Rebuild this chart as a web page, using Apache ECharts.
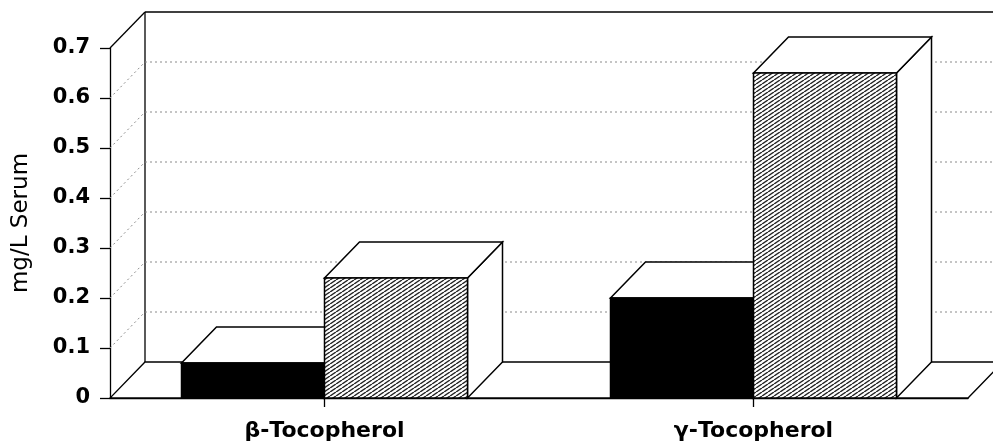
<!DOCTYPE html>
<html>
<head>
<meta charset="utf-8">
<script src="https://cdn.jsdelivr.net/npm/echarts@6/dist/echarts.min.js"></script>
<style>
html,body{margin:0;padding:0;background:#fff;}
#chart{width:993px;height:445px;}
</style>
</head>
<body>
<div id="chart"></div>
<script>
// ---- data ----
const categories = ['β-Tocopherol', 'γ-Tocopherol'];
const seriesNames = ['Series 1', 'Series 2'];
const solidValues = [0.07, 0.20];
const hatchedValues = [0.24, 0.65];
const yMin = 0;
const yMax = 0.7;
const yStep = 0.1;
const yTickValues = [0, 0.1, 0.2, 0.3, 0.4, 0.5, 0.6, 0.7];

// ---- style constants ----
const DX = 35, DY = -36;
const FONT = 'DejaVu Sans';

function makeHatch() {
  const c = document.createElement('canvas');
  const w = 6, h = 4;
  c.width = w; c.height = h;
  const g = c.getContext('2d');
  g.fillStyle = '#fff';
  g.fillRect(0, 0, w, h);
  g.strokeStyle = '#222';
  g.lineWidth = 1.4;
  for (let k = -1; k <= 1; k++) {
    g.beginPath();
    g.moveTo(k * w, h);
    g.lineTo(k * w + w, 0);
    g.stroke();
  }
  return c;
}
const hatchFill = { image: makeHatch(), repeat: 'repeat' };

function barRenderer(side, fill) {
  return function (params, api) {
    const cat = api.value(0), val = api.value(1);
    const base = api.coord([cat, 0]);
    const top = api.coord([cat, val]);
    const band = api.size([1, 0])[0];
    const w = band / 3;
    const x0 = side === 0 ? base[0] - w : base[0];
    const x1 = x0 + w;
    const y0 = base[1], y1 = top[1];
    const st = { fill: '#fff', stroke: '#000', lineWidth: 1.5 };
    return {
      type: 'group',
      children: [
        { type: 'polygon', shape: { points: [[x1, y1], [x1 + DX, y1 + DY], [x1 + DX, y0 + DY], [x1, y0]] }, style: st },
        { type: 'polygon', shape: { points: [[x0, y1], [x1, y1], [x1 + DX, y1 + DY], [x0 + DX, y1 + DY]] }, style: st },
        { type: 'rect', shape: { x: x0, y: y1, width: w, height: y0 - y1 }, style: { fill: fill, stroke: '#000', lineWidth: 1.5 } }
      ]
    };
  };
}

function frameRenderer(params, api) {
  const cs = params.coordSys;
  const L = cs.x, R = cs.x + cs.width, B = cs.y + cs.height, T = cs.y;
  const children = [];
  const black = { stroke: '#000', lineWidth: 1.3 };
  const dotted = { stroke: '#8a8a8a', lineWidth: 1, lineDash: [2, 3] };
  // floor
  children.push({ type: 'polygon', shape: { points: [[L, B], [R, B], [R + DX, B + DY], [L + DX, B + DY]] }, style: { fill: '#fff', stroke: '#000', lineWidth: 1.3 } });
  // left wall
  children.push({ type: 'line', shape: { x1: L + DX, y1: T + DY, x2: L + DX, y2: B + DY }, style: black });
  children.push({ type: 'line', shape: { x1: L, y1: T, x2: L + DX, y2: T + DY }, style: black });
  // back wall top
  children.push({ type: 'line', shape: { x1: L + DX, y1: T + DY, x2: R + DX + 20, y2: T + DY }, style: black });
  yTickValues.forEach(function (v) {
    if (v <= yMin || v >= yMax) return;
    const p = api.coord([0, v]);
    const y = p[1];
    children.push({ type: 'line', shape: { x1: L, y1: y, x2: L + DX, y2: y + DY }, style: dotted });
    children.push({ type: 'line', shape: { x1: L + DX, y1: y + DY, x2: R + DX + 20, y2: y + DY }, style: dotted });
  });
  return { type: 'group', silent: true, children: children };
}

const chart = echarts.init(document.getElementById('chart'), null, { renderer: 'canvas' });
chart.setOption({
  backgroundColor: '#fff',
  animation: false,
  grid: { left: 110, right: 25, top: 48, bottom: 47 },
  xAxis: {
    type: 'category',
    data: categories,
    axisLine: { show: true, lineStyle: { color: '#000', width: 1.3 } },
    axisTick: { show: true, alignWithLabel: true, length: 9, lineStyle: { color: '#000', width: 1.3 } },
    axisLabel: { color: '#000', fontFamily: FONT, fontWeight: 'bold', fontSize: 22, margin: 22 },
    splitLine: { show: false }
  },
  yAxis: {
    type: 'value',
    min: yMin, max: yMax, interval: yStep,
    name: 'mg/L Serum',
    nameLocation: 'middle',
    nameGap: 77,
    nameRotate: 90,
    nameTextStyle: { color: '#000', fontFamily: FONT, fontSize: 23 },
    axisLine: { show: true, lineStyle: { color: '#000', width: 1.3 } },
    axisTick: { show: true, length: 10, lineStyle: { color: '#000', width: 1.3 } },
    axisLabel: { color: '#000', fontFamily: FONT, fontWeight: 'bold', fontSize: 21, margin: 20 },
    splitLine: { show: false }
  },
  series: [
    { type: 'custom', name: 'frame', renderItem: frameRenderer, data: [[0, 0]], silent: true, z: 1 },
    { type: 'custom', name: seriesNames[0], renderItem: barRenderer(0, '#000'), data: solidValues.map(function (v, i) { return [i, v]; }), encode: { x: 0, y: 1 }, z: 2 },
    { type: 'custom', name: seriesNames[1], renderItem: barRenderer(1, hatchFill), data: hatchedValues.map(function (v, i) { return [i, v]; }), encode: { x: 0, y: 1 }, z: 3 }
  ]
});
</script>
</body>
</html>
